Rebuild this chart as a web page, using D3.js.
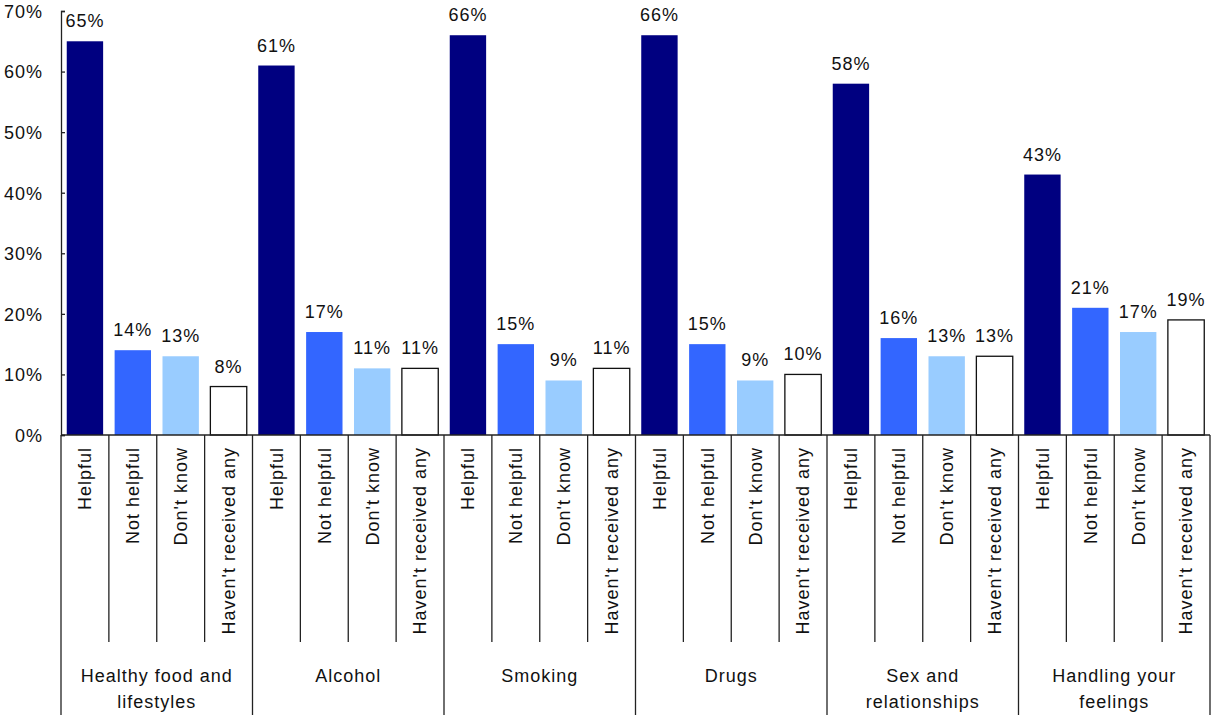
<!DOCTYPE html>
<html lang="en">
<head>
<meta charset="UTF-8">
<title>Helpfulness of information</title>
<script src="https://d3js.org/d3.v7.min.js"></script>
<style>
  body { margin: 0; padding: 0; background: #fff; }
  text { font-family: "Liberation Sans", Arial, sans-serif; fill: #111; }
</style>
</head>
<body>
<script>
  // data
  const groups = [["Healthy food and", "lifestyles"], ["Alcohol"], ["Smoking"], ["Drugs"], ["Sex and", "relationships"], ["Handling your", "feelings"]];
  const answers = ["Helpful", "Not helpful", "Don't know", "Haven't received any"];
  const helpful = [65, 61, 66, 66, 58, 43];
  const notHelpful = [14, 17, 15, 15, 16, 21];
  const dontKnow = [13, 11, 9, 9, 13, 17];
  const noneReceived = [8, 11, 11, 10, 13, 19];
  const yTicks = [0, 10, 20, 30, 40, 50, 60, 70];
  const colors = ["#000080", "#3366ff", "#99ccff", "#ffffff"];

  const width = 1212, height = 715;
  const plotLeft = 61, plotRight = 1210, plotTop = 11, plotBase = 435;

  const svg = d3.select("body").append("svg")
    .attr("width", width)
    .attr("height", height)

  const series = [helpful, notHelpful, dontKnow, noneReceived];
  const rows = [];
  groups.forEach((g, gi) => {
    answers.forEach((a, ai) => {
      rows.push({ group: gi, answer: a, ai: ai, value: series[ai][gi] });
    });
  });

  const x0 = d3.scaleBand().domain(d3.range(groups.length)).range([plotLeft, plotRight]);
  const x1 = d3.scaleBand().domain(answers).range([0, x0.bandwidth()]);
  const y = d3.scaleLinear().domain([0, 70]).range([plotBase, plotTop]);
  const barW = x1.bandwidth() * 0.76;

  // bars
  svg.selectAll("rect.bar")
    .data(rows)
    .join("rect")
    .attr("class", "bar")
    .attr("x", d => x0(d.group) + x1(d.answer) + (x1.bandwidth() - barW) / 2)
    .attr("y", d => y(d.value))
    .attr("width", barW)
    .attr("height", d => y(0) - y(d.value))
    .attr("fill", d => colors[d.ai])
    .attr("stroke", d => d.ai == 3 ? "#111" : "none")
    .attr("stroke-width", 1.3)

  // value labels
  svg.selectAll("text.val")
    .data(rows)
    .join("text")
    .attr("class", "val")
    .attr("x", d => x0(d.group) + x1(d.answer) + x1.bandwidth() / 2)
    .attr("y", d => y(d.value) - 14)
    .attr("text-anchor", "middle")
    .style("font-size", "18px")
    .style("letter-spacing", "1px")
    .text(d => d.value + "%")

  // y axis
  const yAxis = svg.append("g")
    .attr("transform", `translate(${plotLeft},0)`)
    .call(d3.axisLeft(y).tickValues(yTicks).tickSize(-4).tickPadding(0).tickFormat(d => d + "%"))
  yAxis.select(".domain").attr("stroke", "#222").attr("stroke-width", 1.3)
  yAxis.selectAll(".tick line").attr("stroke", "#222").attr("stroke-width", 1.3)
  yAxis.selectAll(".tick text")
    .attr("x", -18)
    .attr("dy", "0.35em")
    .style("font-size", "18px")
    .style("letter-spacing", "1px")
    .style("font-family", "'Liberation Sans', Arial, sans-serif")
    .attr("fill", "#111")

  // axis line continues down through the label area
  svg.append("line")
    .attr("x1", plotLeft).attr("x2", plotLeft)
    .attr("y1", plotBase).attr("y2", height)
    .attr("stroke", "#222").attr("stroke-width", 1.3)

  // baseline
  svg.append("line")
    .attr("x1", plotLeft).attr("x2", plotRight)
    .attr("y1", plotBase).attr("y2", plotBase)
    .attr("stroke", "#222").attr("stroke-width", 1.3)

  // group dividers
  svg.selectAll("line.gdiv")
    .data(d3.range(1, groups.length + 1))
    .join("line")
    .attr("class", "gdiv")
    .attr("x1", d => d < groups.length ? x0(d) : plotRight)
    .attr("x2", d => d < groups.length ? x0(d) : plotRight)
    .attr("y1", plotBase).attr("y2", height)
    .attr("stroke", "#222").attr("stroke-width", 1.3)

  // category dividers inside each group
  const inner = [];
  groups.forEach((g, gi) => answers.slice(1).forEach(a => inner.push(x0(gi) + x1(a))));
  svg.selectAll("line.cdiv")
    .data(inner)
    .join("line")
    .attr("class", "cdiv")
    .attr("x1", d => d).attr("x2", d => d)
    .attr("y1", plotBase).attr("y2", 642)
    .attr("stroke", "#222").attr("stroke-width", 1.3)

  // rotated category labels
  svg.selectAll("text.cat")
    .data(rows)
    .join("text")
    .attr("class", "cat")
    .attr("transform", d => `translate(${x0(d.group) + x1(d.answer) + x1.bandwidth() / 2},447) rotate(-90)`)
    .attr("text-anchor", "end")
    .attr("dy", "0.35em")
    .style("font-size", "18px")
    .style("letter-spacing", "1px")
    .text(d => d.answer)

  // group labels
  const gl = svg.selectAll("text.grp")
    .data(groups)
    .join("text")
    .attr("class", "grp")
    .attr("x", (d, i) => x0(i) + x0.bandwidth() / 2)
    .attr("y", 682)
    .attr("text-anchor", "middle")
    .style("font-size", "18px")
    .style("letter-spacing", "1px")
  gl.selectAll("tspan")
    .data(d => d)
    .join("tspan")
    .attr("x", function () { return this.parentNode.getAttribute("x") })
    .attr("dy", (d, i) => i == 0 ? 0 : 26)
    .text(d => d)
</script>
</body>
</html>
